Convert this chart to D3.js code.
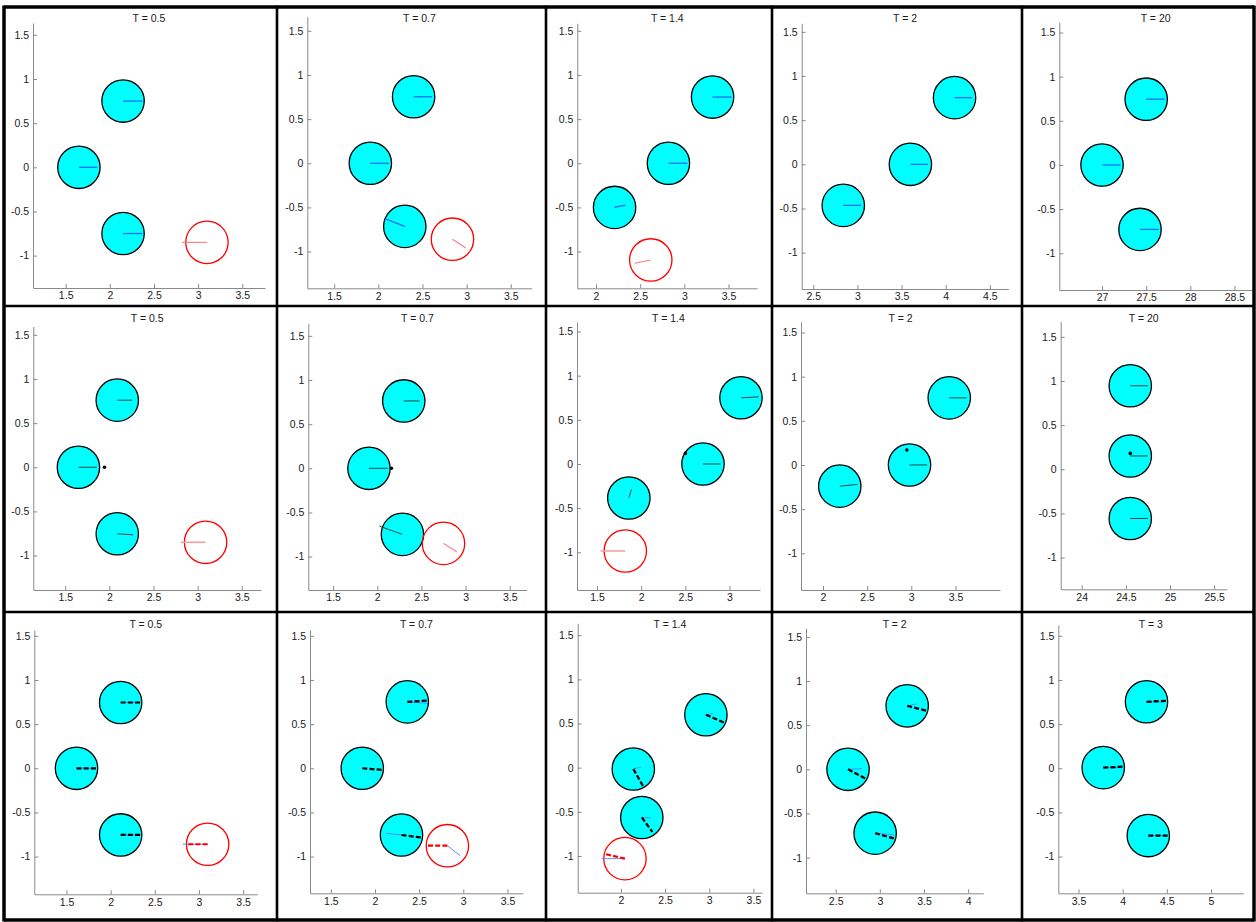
<!DOCTYPE html>
<html>
<head>
<meta charset="utf-8">
<script src="https://cdn.jsdelivr.net/npm/d3@7"></script>
<style>
  body { margin: 0; background: #fff; }
  svg { display: block; }
  text { font-family: "Liberation Sans", Arial, sans-serif; }
</style>
</head>
<body>
<div id="chart"></div>
<script>
// panels are numbered row by row: 0-4 top row, 5-9 middle, 10-14 bottom
const titles = ["T = 0.5", "T = 0.7", "T = 1.4", "T = 2", "T = 20",
                "T = 0.5", "T = 0.7", "T = 1.4", "T = 2", "T = 20",
                "T = 0.5", "T = 0.7", "T = 1.4", "T = 2", "T = 3"];

const xTicks = [
  [1.5, 2, 2.5, 3, 3.5], [1.5, 2, 2.5, 3, 3.5], [2, 2.5, 3, 3.5], [2.5, 3, 3.5, 4, 4.5], [27, 27.5, 28, 28.5],
  [1.5, 2, 2.5, 3, 3.5], [1.5, 2, 2.5, 3, 3.5], [1.5, 2, 2.5, 3], [2, 2.5, 3, 3.5], [24, 24.5, 25, 25.5],
  [1.5, 2, 2.5, 3, 3.5], [1.5, 2, 2.5, 3, 3.5], [2, 2.5, 3, 3.5], [2.5, 3, 3.5, 4], [3.5, 4, 4.5, 5]
];
const yTicks = [-1, -0.5, 0, 0.5, 1, 1.5];

const xDomains = [
  [1.13, 3.757], [1.196, 3.737], [1.788, 3.826], [2.369, 4.709], [26.516, 28.698],
  [1.139, 3.718], [1.219, 3.692], [1.273, 3.345], [1.751, 4.005], [23.762, 25.642],
  [1.135, 3.66], [1.264, 3.673], [1.51, 3.60], [2.164, 4.172], [3.271, 5.366]
];
const yDomains = [
  [-1.367, 1.634], [-1.416, 1.66], [-1.416, 1.585], [-1.412, 1.597], [-1.416, 1.62],
  [-1.39, 1.594], [-1.378, 1.642], [-1.427, 1.608], [-1.416, 1.62], [-1.359, 1.672],
  [-1.427, 1.567], [-1.416, 1.566], [-1.416, 1.635], [-1.404, 1.597], [-1.416, 1.623]
];

const radius = 0.24;

// [panel, x, y, kind]
const balls = [
  [0, 1.65, 0, "c"], [0, 2.15, 0.75, "c"], [0, 2.15, -0.75, "c"], [0, 3.1, -0.85, "r"],
  [1, 1.91, 0, "c"], [1, 2.40, 0.753, "c"], [1, 2.30, -0.715, "c"], [1, 2.84, -0.86, "r"],
  [2, 2.82, 0, "c"], [2, 3.32, 0.75, "c"], [2, 2.21, -0.50, "c"], [2, 2.62, -1.095, "r"],
  [3, 3.6, 0, "c"], [3, 4.1, 0.755, "c"], [3, 2.84, -0.465, "c"],
  [4, 27.0, 0, "c"], [4, 27.5, 0.745, "c"], [4, 27.43, -0.73, "c"],
  [5, 1.65, 0, "c"], [5, 2.09, 0.76, "c"], [5, 2.09, -0.753, "c"], [5, 3.09, -0.85, "r"],
  [6, 1.906, 0, "c"], [6, 2.30, 0.763, "c"], [6, 2.285, -0.748, "c"], [6, 2.75, -0.85, "r"],
  [7, 3.13, 0.75, "c"], [7, 2.70, 0, "c"], [7, 1.86, -0.385, "c"], [7, 1.82, -0.985, "r"],
  [8, 3.43, 0.76, "c"], [8, 2.98, 0, "c"], [8, 2.19, -0.24, "c"],
  [9, 24.55, 0.946, "c"], [9, 24.55, 0.151, "c"], [9, 24.55, -0.557, "c"],
  [10, 1.613, 0, "c"], [10, 2.113, 0.745, "c"], [10, 2.113, -0.755, "c"], [10, 3.098, -0.86, "r"],
  [11, 1.856, 0, "c"], [11, 2.366, 0.752, "c"], [11, 2.30, -0.756, "c"], [11, 2.82, -0.877, "r"],
  [12, 2.962, 0.599, "c"], [12, 2.14, -0.015, "c"], [12, 2.236, -0.564, "c"], [12, 2.045, -1.03, "r"],
  [13, 3.31, 0.719, "c"], [13, 2.64, 0, "c"], [13, 2.947, -0.723, "c"],
  [14, 4.27, 0.753, "c"], [14, 3.78, 0.007, "c"], [14, 4.29, -0.762, "c"]
];

// [panel, x0, y0, x1, y1, kind]
const sticks = [
  [0, 1.65, 0, 1.86, 0, "blue"], [0, 2.15, 0.75, 2.37, 0.75, "blue"], [0, 2.15, -0.75, 2.37, -0.75, "blue"], [0, 3.1, -0.85, 2.82, -0.85, "pink"],
  [1, 1.91, 0, 2.12, 0, "blue"], [1, 2.40, 0.753, 2.61, 0.753, "blue"], [1, 2.30, -0.715, 2.07, -0.625, "blue"], [1, 2.84, -0.86, 2.99, -0.96, "pink"],
  [2, 2.82, 0, 3.035, 0, "blue"], [2, 3.32, 0.75, 3.535, 0.75, "blue"], [2, 2.21, -0.5, 2.33, -0.474, "blue"], [2, 2.62, -1.095, 2.435, -1.133, "pink"],
  [3, 3.6, 0, 3.8, 0, "blue"], [3, 4.1, 0.755, 4.3, 0.755, "blue"], [3, 2.84, -0.465, 3.04, -0.465, "blue"],
  [4, 27.0, 0, 27.21, 0, "blue"], [4, 27.5, 0.745, 27.71, 0.745, "blue"], [4, 27.43, -0.73, 27.64, -0.73, "blue"],
  [5, 1.65, 0, 1.86, 0, "dark"], [5, 2.09, 0.76, 2.26, 0.76, "dark"], [5, 2.09, -0.753, 2.27, -0.765, "dark"], [5, 3.09, -0.85, 2.81, -0.85, "pale"],
  [6, 1.906, 0, 2.12, 0, "dark"], [6, 2.30, 0.763, 2.48, 0.763, "dark"], [6, 2.285, -0.748, 2.025, -0.655, "dark"], [6, 2.75, -0.85, 2.90, -0.945, "pale"],
  [7, 3.13, 0.75, 3.33, 0.76, "dark"], [7, 2.70, 0, 2.90, 0, "dark"], [7, 1.86, -0.385, 1.89, -0.29, "dark"], [7, 1.82, -0.985, 1.54, -0.985, "pale"],
  [8, 3.43, 0.76, 3.63, 0.76, "dark"], [8, 2.98, 0, 3.18, 0, "dark"], [8, 2.19, -0.24, 2.39, -0.22, "dark"],
  [9, 24.55, 0.946, 24.75, 0.946, "dark"], [9, 24.55, 0.151, 24.75, 0.151, "dark"], [9, 24.55, -0.557, 24.75, -0.557, "dark"],
  [10, 1.613, 0, 1.81, 0, "thin"], [10, 1.613, 0, 1.853, 0, "kdash"],
  [10, 2.113, 0.745, 2.31, 0.745, "thin"], [10, 2.113, 0.745, 2.353, 0.745, "kdash"],
  [10, 2.113, -0.755, 2.31, -0.755, "thin"], [10, 2.113, -0.755, 2.353, -0.755, "kdash"],
  [10, 3.098, -0.86, 2.815, -0.86, "thin"], [10, 3.098, -0.86, 2.87, -0.86, "rdash"],
  [11, 2.366, 0.752, 2.59, 0.735, "thin"], [11, 2.366, 0.752, 2.593, 0.767, "kdash"],
  [11, 1.856, 0, 1.90, 0, "thin"], [11, 1.856, 0, 2.083, -0.019, "kdash"],
  [11, 2.30, -0.756, 2.13, -0.736, "thin"], [11, 2.30, -0.756, 2.538, -0.786, "kdash"],
  [11, 2.82, -0.877, 2.964, -0.99, "thin"], [11, 2.82, -0.877, 2.593, -0.877, "rdash"],
  [12, 2.962, 0.599, 3.04, 0.61, "thin"], [12, 2.962, 0.599, 3.182, 0.504, "kdash"],
  [12, 2.14, -0.015, 2.223, 0.005, "thin"], [12, 2.14, -0.015, 2.254, -0.215, "kdash"],
  [12, 2.236, -0.564, 2.34, -0.57, "thin"], [12, 2.236, -0.564, 2.356, -0.727, "kdash"],
  [12, 2.045, -1.03, 1.78, -1.03, "thin"], [12, 2.045, -1.03, 1.818, -0.977, "rdash"],
  [13, 3.31, 0.719, 3.41, 0.74, "thin"], [13, 3.31, 0.719, 3.537, 0.662, "kdash"],
  [13, 2.64, 0, 2.795, 0.008, "thin"], [13, 2.64, 0, 2.84, -0.106, "kdash"],
  [13, 2.947, -0.723, 3.162, -0.743, "thin"], [13, 2.947, -0.723, 3.174, -0.787, "kdash"],
  [14, 4.27, 0.753, 4.48, 0.753, "thin"], [14, 4.27, 0.753, 4.496, 0.764, "kdash"],
  [14, 3.78, 0.007, 3.99, 0.007, "thin"], [14, 3.78, 0.007, 3.998, 0.018, "kdash"],
  [14, 4.29, -0.762, 4.5, -0.762, "thin"], [14, 4.29, -0.762, 4.524, -0.762, "kdash"]
];

// [panel, x, y]
const dots = [[5, 1.945, 0], [6, 2.16, 0], [7, 2.5, 0.12], [8, 2.95, 0.17], [9, 24.55, 0.18]];

// ---- layout (pixels) ----
const W = 1256, H = 922;
const unit = 88.3;                     // px per data unit, same on both axes
const plotLeft = [33, 307.3, 577.3, 801.7, 1059.3,  33.3, 308.3, 577, 801, 1060.7,  34.3, 310, 577.7, 806, 1058.3];
const plotBottom = [288, 288.3, 288.3, 289, 290,  590, 590, 590, 590, 589.3,  894.3, 893.3, 892.7, 893.3, 893.3];
const titleBase = [22, 322, 628];
const colLines = [4, 277, 546, 772, 1022, 1254];
const rowLines = [7, 306, 612, 920];

const stickStyle = {
  blue:  { stroke: "#1060ff", width: 1.2, dash: null },
  pink:  { stroke: "#ff7a7a", width: 1.1, dash: null },
  dark:  { stroke: "#264545", width: 1,   dash: null },
  pale:  { stroke: "#f5a0a0", width: 1.6, dash: null },
  thin:  { stroke: "#5a7dff", width: 0.9, dash: null },
  kdash: { stroke: "#000",    width: 2.2, dash: "5,2.2" },
  rdash: { stroke: "#ff0000", width: 2.2, dash: "5,2.2" }
};

const svg = d3.select("#chart").append("svg")
  .attr("width", W)
  .attr("height", H);

svg.append("rect").attr("width", W).attr("height", H).attr("fill", "#fff");

titles.forEach((title, p) =>
{
  const row = Math.floor(p / 5);
  const xd = xDomains[p], yd = yDomains[p];
  const left = plotLeft[p], bottom = plotBottom[p];
  const x = d3.scaleLinear().domain(xd).range([left, left + (xd[1] - xd[0]) * unit]);
  const y = d3.scaleLinear().domain(yd).range([bottom, bottom - (yd[1] - yd[0]) * unit]);

  const g = svg.append("g");

  const ax = g.append("g")
    .attr("transform", `translate(0,${bottom})`)
    .call(d3.axisBottom(x).tickValues(xTicks[p]).tickSize(-4).tickSizeOuter(0).tickPadding(4).tickFormat(d => String(d)));
  const ay = g.append("g")
    .attr("transform", `translate(${left},0)`)
    .call(d3.axisLeft(y).tickValues(yTicks).tickSize(-4).tickSizeOuter(0).tickPadding(4).tickFormat(d => String(d)));
  [ax, ay].forEach(a =>
  {
    a.select(".domain").attr("stroke", "#8a8a8a");
    a.selectAll(".tick line").attr("stroke", "#8a8a8a");
    a.selectAll(".tick text").attr("fill", "#1a1a1a").style("font-size", "10.5px").style("font-family", "'Liberation Sans', Arial, sans-serif");
  });

  g.append("text")
    .attr("x", (x.range()[0] + x.range()[1]) / 2)
    .attr("y", titleBase[row])
    .attr("text-anchor", "middle")
    .attr("fill", "#1a1a1a")
    .style("font-size", "10.5px")
    .text(title);

  const rpx = x(xd[0] + radius) - x(xd[0]);

  g.selectAll("circle.ball").data(balls.filter(b => b[0] === p)).enter().append("circle")
    .attr("class", "ball")
    .attr("cx", d => x(d[1]))
    .attr("cy", d => y(d[2]))
    .attr("r", rpx)
    .attr("fill", d => d[3] === "c" ? "#00ffff" : "none")
    .attr("stroke", d => d[3] === "c" ? "#000" : "#ff0000")
    .attr("stroke-width", 1.3);

  g.selectAll("line.stick").data(sticks.filter(s => s[0] === p)).enter().append("line")
    .attr("class", "stick")
    .attr("x1", d => x(d[1])).attr("y1", d => y(d[2]))
    .attr("x2", d => x(d[3])).attr("y2", d => y(d[4]))
    .attr("stroke", d => stickStyle[d[5]].stroke)
    .attr("stroke-width", d => stickStyle[d[5]].width)
    .attr("stroke-dasharray", d => stickStyle[d[5]].dash);

  g.selectAll("circle.dot").data(dots.filter(d => d[0] === p)).enter().append("circle")
    .attr("class", "dot")
    .attr("cx", d => x(d[1]))
    .attr("cy", d => y(d[2]))
    .attr("r", 1.8)
    .attr("fill", "#000");
});

// panel frames
colLines.forEach((cx, i) =>
{
  const edge = i === 0 || i === colLines.length - 1;
  svg.append("line").attr("x1", cx).attr("x2", cx).attr("y1", rowLines[0] - 1.5).attr("y2", rowLines[3] + 1.5)
    .attr("stroke", "#000").attr("stroke-width", edge ? 3.5 : 2.6);
});
rowLines.forEach((ry, i) =>
{
  const edge = i === 0 || i === rowLines.length - 1;
  svg.append("line").attr("x1", colLines[0]).attr("x2", colLines[5]).attr("y1", ry).attr("y2", ry)
    .attr("stroke", "#000").attr("stroke-width", edge ? 3.5 : 2.6);
});
</script>
</body>
</html>
